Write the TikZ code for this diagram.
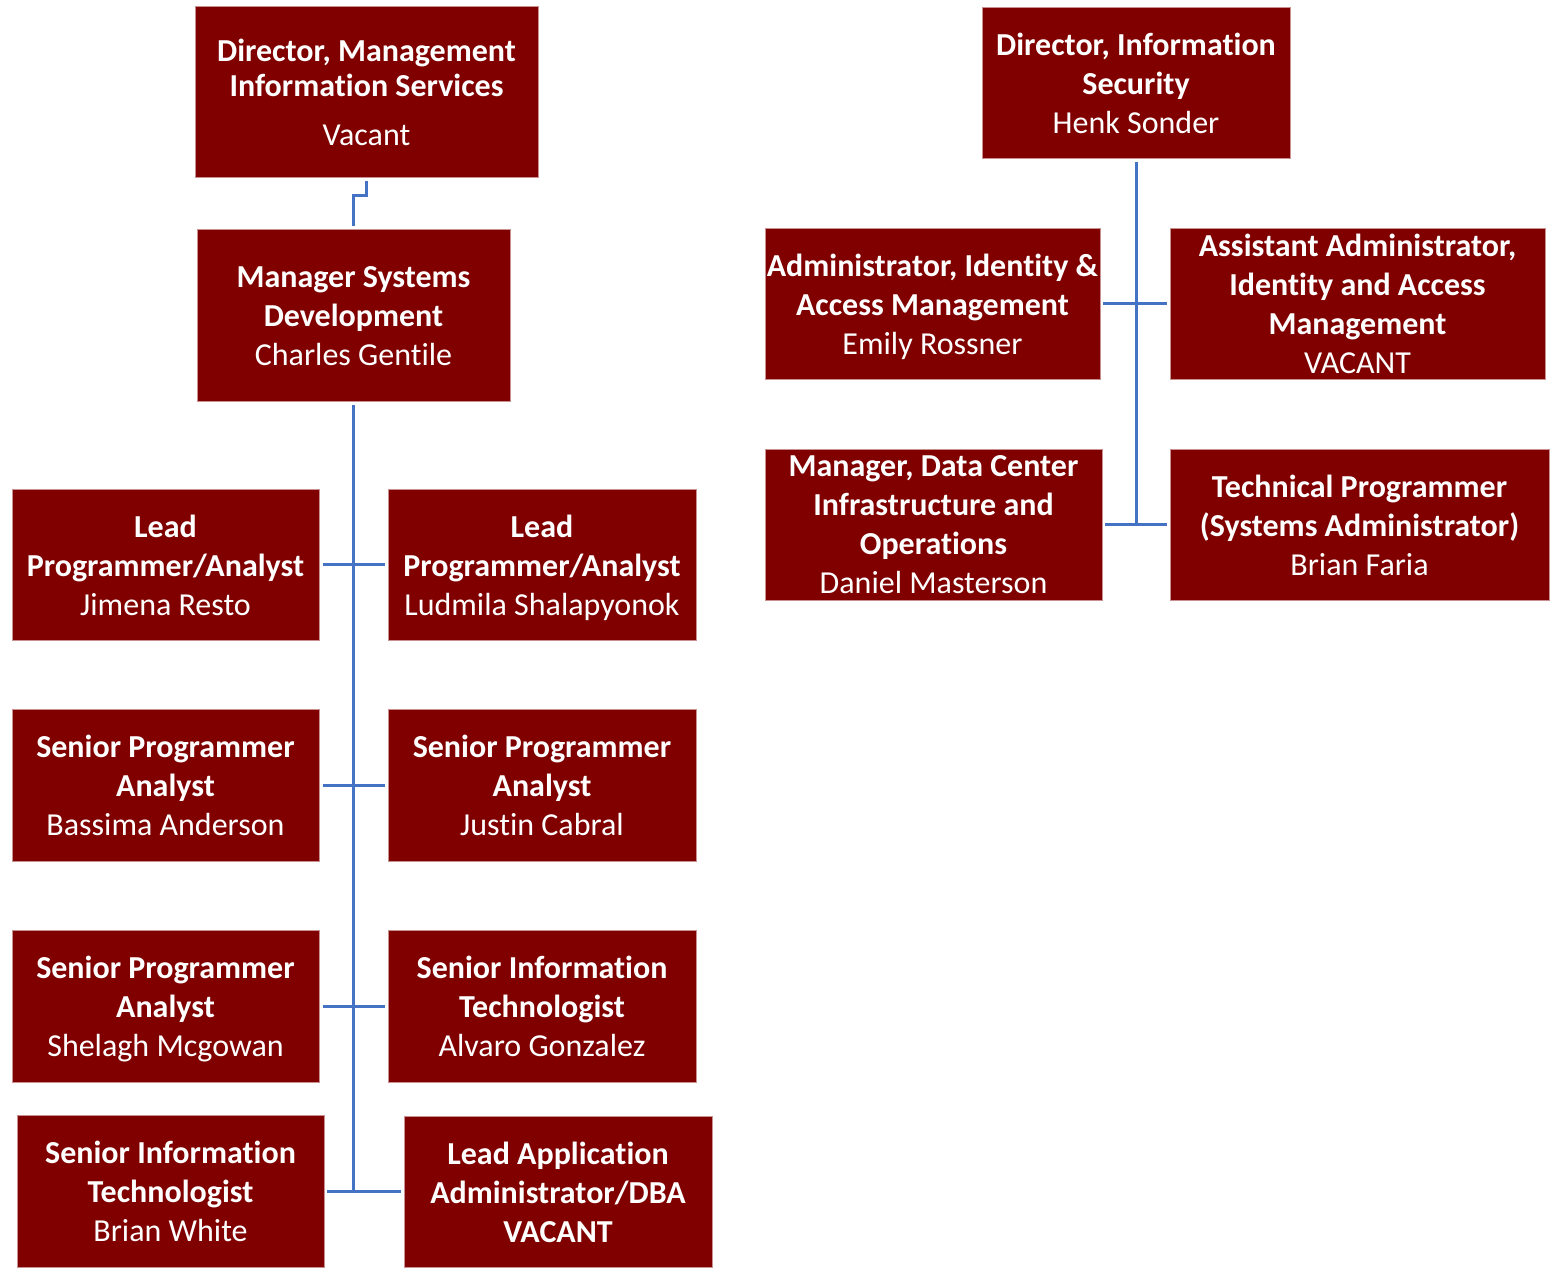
\documentclass[tikz,border=0pt]{standalone}
\usepackage{fontspec}
\setmainfont[Ligatures=NoCommon]{Carlito}
\usetikzlibrary{calc}
\definecolor{boxred}{HTML}{800000}
\definecolor{boxedge}{HTML}{C89090}
\definecolor{linkblue}{HTML}{4472C4}
\newcommand\tstrut{\rule{0pt}{17.6pt}}
\tikzset{
  box/.style={draw=boxedge, fill=boxred, text=white, line width=0.4pt, inner sep=0pt, align=center, font=\fontsize{16}{19.5}\selectfont},
  link/.style={draw=linkblue, line width=1.5pt}
}
\begin{document}
\begin{tikzpicture}[x=0.5pt,y=-0.5pt]
\useasboundingbox (0,0) rectangle (1550,1268);
% left tree
\node[box, minimum width=171.5pt, minimum height=85.5pt, font=\fontsize{16}{17.5}\selectfont] (dmis) at (366.5,91.5) {\tstrut\textbf{Director, Management}\\\textbf{Information Services}\\[7pt]Vacant\strut};
\node[box, minimum width=156.5pt, minimum height=86pt] (msd) at (353.5,315) {\tstrut\textbf{Manager Systems}\\\textbf{Development}\\Charles Gentile\strut};
\node[box, minimum width=153.5pt, minimum height=75.5pt] (lpa1) at (165.5,564.5) {\tstrut\textbf{Lead}\\\textbf{Programmer/Analyst}\\Jimena Resto\strut};
\node[box, minimum width=154pt, minimum height=75.5pt] (lpa2) at (542,564.5) {\tstrut\textbf{Lead}\\\textbf{Programmer/Analyst}\\Ludmila Shalapyonok\strut};
\node[box, minimum width=153.5pt, minimum height=76pt] (spa1) at (165.5,785) {\tstrut\textbf{Senior Programmer}\\\textbf{Analyst}\\Bassima Anderson\strut};
\node[box, minimum width=154pt, minimum height=76pt] (spa2) at (542,785) {\tstrut\textbf{Senior Programmer}\\\textbf{Analyst}\\Justin Cabral\strut};
\node[box, minimum width=153.5pt, minimum height=76pt] (spa3) at (165.5,1006) {\tstrut\textbf{Senior Programmer}\\\textbf{Analyst}\\Shelagh Mcgowan\strut};
\node[box, minimum width=154pt, minimum height=76pt] (sit1) at (542,1006) {\tstrut\textbf{Senior Information}\\\textbf{Technologist}\\Alvaro Gonzalez\strut};
\node[box, minimum width=153.5pt, minimum height=76pt] (sit2) at (170.5,1191) {\tstrut\textbf{Senior Information}\\\textbf{Technologist}\\Brian White\strut};
\node[box, minimum width=154pt, minimum height=75.5pt] (lad) at (558,1191.5) {\tstrut\textbf{Lead Application}\\\textbf{Administrator/DBA}\\\textbf{VACANT}\strut};
% right tree
\node[box, minimum width=154pt, minimum height=75.5pt] (dis) at (1136,82.5) {\tstrut\textbf{Director, Information}\\\textbf{Security}\\Henk Sonder\strut};
\node[box, minimum width=167.5pt, minimum height=75.5pt] (aiam) at (932.5,303.5) {\tstrut\textbf{Administrator, Identity \&}\\\textbf{Access Management}\\Emily Rossner\strut};
\node[box, minimum width=187.5pt, minimum height=75.5pt] (asst) at (1357.5,303.5) {\textbf{Assistant Administrator,}\\\textbf{Identity and Access}\\\textbf{Management}\\VACANT};
\node[box, minimum width=168.5pt, minimum height=75.5pt] (mdc) at (933.5,524.5) {\textbf{Manager, Data Center}\\\textbf{Infrastructure and}\\\textbf{Operations}\\Daniel Masterson};
\node[box, minimum width=189.5pt, minimum height=75.5pt] (tp) at (1359.5,524.5) {\tstrut\textbf{Technical Programmer}\\\textbf{(Systems Administrator)}\\Brian Faria\strut};
% connectors left
\draw[link] ($(dmis.south)+(0,4)$) -- ++(0,14) -| ($(msd.north)+(0,-3)$);
\draw[link] ($(msd.south)+(0,4)$) |- ($(lad.west)+(-3,0)$);
\draw[link] ($(sit2.east)+(3,0)$) -- (sit2.east -| msd.south);
\draw[link] ($(lpa1.east)+(4,0)$) -- ($(lpa2.west)+(-3,0)$);
\draw[link] ($(spa1.east)+(4,0)$) -- ($(spa2.west)+(-3,0)$);
\draw[link] ($(spa3.east)+(4,0)$) -- ($(sit1.west)+(-3,0)$);
% connectors right
\draw[link] ($(dis.south)+(0,4)$) |- ($(tp.west)+(-3,0)$);
\draw[link] ($(mdc.east)+(3,0)$) -- (mdc.east -| dis.south);
\draw[link] ($(aiam.east)+(3,0)$) -- ($(asst.west)+(-3,0)$);
\end{tikzpicture}
\end{document}
